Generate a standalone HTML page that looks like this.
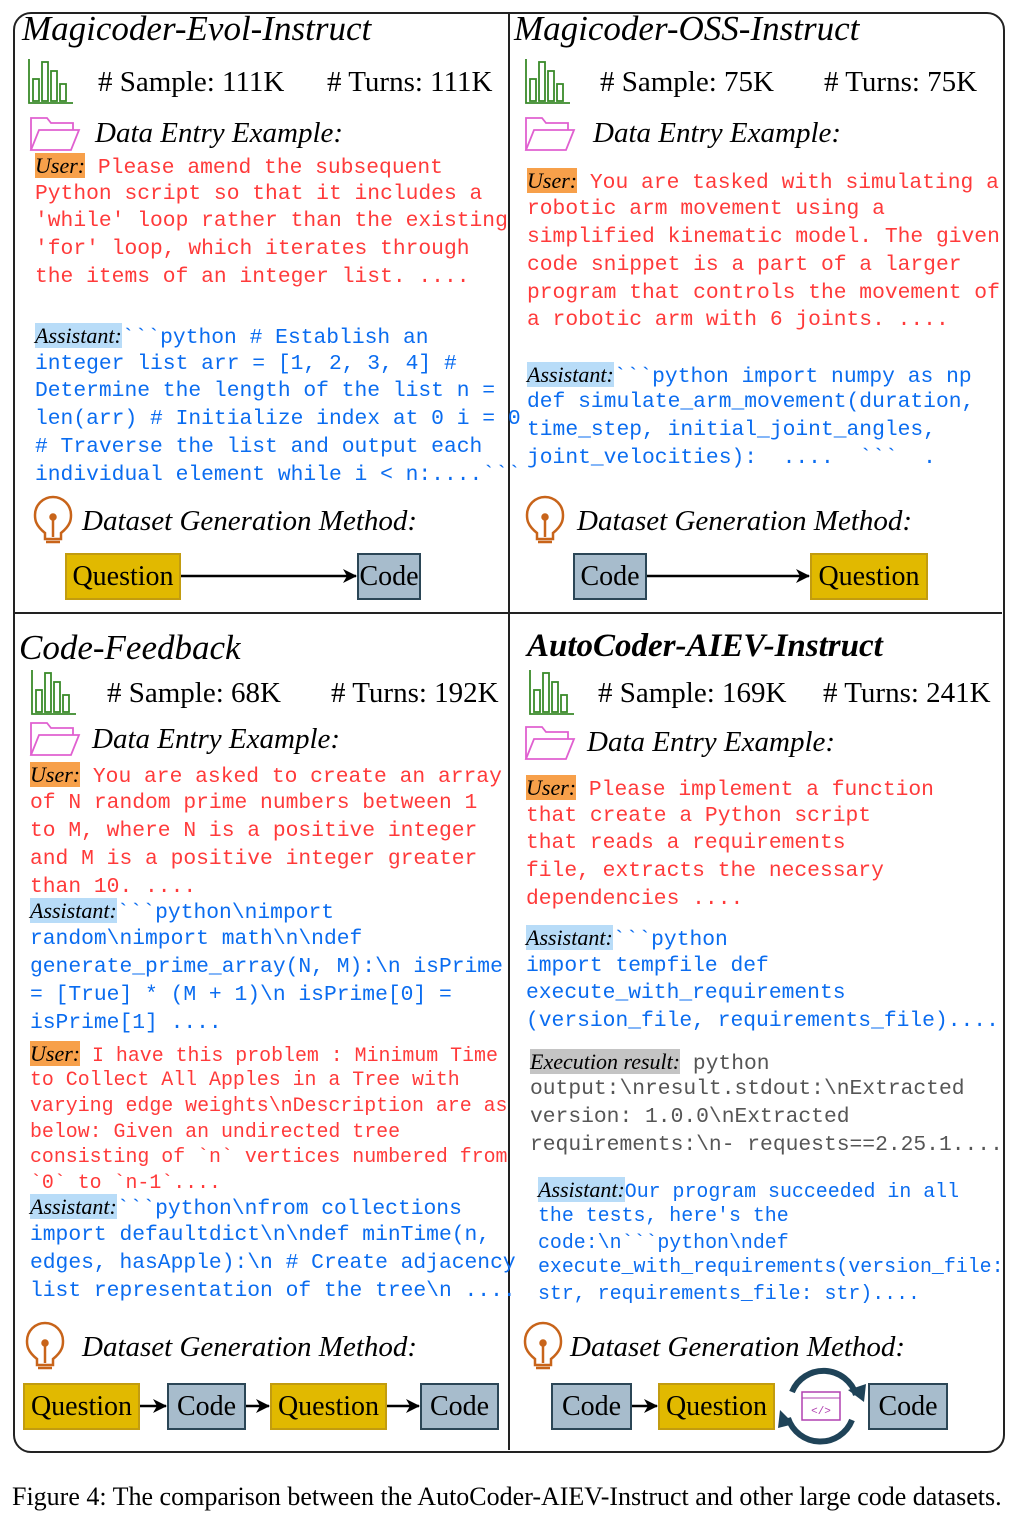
<!DOCTYPE html>
<html><head><meta charset="utf-8"><style>
body{margin:0;width:1028px;height:1514px;background:#fff;position:relative;overflow:hidden;font-family:"Liberation Serif",serif}
.a{position:absolute;white-space:pre;line-height:28px}
.t{font-style:italic;font-size:35px;line-height:38px}
.s{font-size:29px;line-height:32px}
.h{font-style:italic;font-size:29px;line-height:32px}
.m{font-family:"Liberation Mono",monospace;font-size:21.3px}
.r{color:#ff3a3a}.b{color:#0a6cf0}.g{color:#555}
.u{background:#f7a04a;color:#000;font-family:"Liberation Serif",serif;font-style:italic;font-size:22px}
.as{background:#b8dcf8;color:#000;font-family:"Liberation Serif",serif;font-style:italic;font-size:22px}
.ex{background:#c4c4c4;color:#000;font-family:"Liberation Serif",serif;font-style:italic;font-size:22px}
.q{position:absolute;background:#e1b900;border:2px solid #c29c10;box-sizing:border-box;font-size:28px;line-height:43px;text-align:center}
.c{position:absolute;background:#a7bccc;border:2px solid #2b4656;box-sizing:border-box;font-size:28px;line-height:43px;text-align:center}
</style></head><body>
<div style="position:absolute;left:13px;top:12px;width:988px;height:1437px;border:2px solid #222;border-radius:18px"></div>
<div style="position:absolute;left:508px;top:13px;width:2px;height:1437px;background:#222"></div>
<div style="position:absolute;left:14px;top:612px;width:988px;height:2px;background:#222"></div>

<svg width="1028" height="1514" style="position:absolute;left:0;top:0">
<defs>
<g id="chart" fill="none" stroke="#3a8a2a" stroke-width="1.8"><path d="M0 0 V44 H44"/><rect x="4" y="20" width="6" height="22"/><rect x="13" y="3" width="6" height="39"/><rect x="22" y="12" width="6" height="30"/><rect x="31" y="25" width="6" height="17"/></g>
<g id="fold" fill="none" stroke="#e060d0" stroke-width="1.8"><path d="M0 34 V2 H16 L20 7 H42 V14"/><path d="M0 34 L8 14 H48 L40 34 Z"/></g>
<g id="bulb" fill="none" stroke="#c8641a" stroke-width="2.5"><path d="M12 36 C2 28 2 22 2 18 A18 18 0 0 1 38 18 C38 22 38 28 28 36 V42 H12 Z"/><path d="M20 40 V22"/><circle cx="20" cy="20" r="2.5" fill="#c8641a"/><path d="M13 45 H27"/></g>
<marker id="ar" markerWidth="14" markerHeight="14" refX="13" refY="7" orient="auto" markerUnits="userSpaceOnUse"><path d="M0 0 L14 7 L0 14 L4 7Z" fill="#000"/></marker>
</defs>
<use href="#chart" x="29" y="59"/><use href="#chart" x="526" y="59"/><use href="#chart" x="32" y="670"/><use href="#chart" x="530" y="670"/>
<use href="#fold" x="31" y="116"/><use href="#fold" x="526" y="116"/><use href="#fold" x="31" y="721"/><use href="#fold" x="526" y="725"/>
<use href="#bulb" x="33" y="497"/><use href="#bulb" x="525" y="497"/><use href="#bulb" x="25" y="1323"/><use href="#bulb" x="523" y="1323"/>
<g stroke="#000" stroke-width="2.5" marker-end="url(#ar)">
<line x1="181" y1="576" x2="356" y2="576"/><line x1="647" y1="576" x2="809" y2="576"/>
<line x1="140" y1="1406" x2="166" y2="1406"/><line x1="246" y1="1406" x2="269" y2="1406"/><line x1="387" y1="1406" x2="419" y2="1406"/><line x1="632" y1="1406" x2="657" y2="1406"/>
</g>
<g fill="none" stroke="#1f4358" stroke-width="6"><path d="M792 1392 A34 34 0 0 1 856 1395"/><path d="M852 1420 A34 34 0 0 1 788 1418"/></g>
<path d="M848 1390 L864 1402 L866 1384Z M794 1424 L780 1410 L778 1428Z" fill="#1f4358"/>
<rect x="802" y="1392" width="38" height="28" fill="#fff" stroke="#b040b0" stroke-width="1.5"/><line x1="802" y1="1398" x2="840" y2="1398" stroke="#b040b0"/>
<text x="821" y="1414" font-size="11" fill="#b040b0" text-anchor="middle" font-family="Liberation Mono">&lt;/&gt;</text>
</svg>

<!-- TL -->
<div class="a t" style="left:22px;top:10px">Magicoder-Evol-Instruct</div>
<div class="a s" style="left:98px;top:66px"># Sample: 111K</div><div class="a s" style="left:327px;top:66px"># Turns: 111K</div>
<div class="a h" style="left:95px;top:117px">Data Entry Example:</div>
<div class="a m r" style="left:35px;top:152px"><span class="u">User:</span> Please amend the subsequent</div>
<div class="a m r" style="left:35px;top:180px">Python script so that it includes a</div>
<div class="a m r" style="left:35px;top:207px">'while' loop rather than the existing</div>
<div class="a m r" style="left:35px;top:235px">'for' loop, which iterates through</div>
<div class="a m r" style="left:35px;top:263px">the items of an integer list. ....</div>
<div class="a m b" style="left:35px;top:322px"><span class="as">Assistant:</span>&#96;&#96;&#96;python # Establish an</div>
<div class="a m b" style="left:35px;top:350px">integer list arr = [1, 2, 3, 4] #</div>
<div class="a m b" style="left:35px;top:377px">Determine the length of the list n =</div>
<div class="a m b" style="left:35px;top:405px">len(arr) # Initialize index at 0 i = 0</div>
<div class="a m b" style="left:35px;top:433px"># Traverse the list and output each</div>
<div class="a m b" style="left:35px;top:461px">individual element while i &lt; n:....&#96;&#96;&#96;</div>
<div class="a h" style="left:82px;top:505px">Dataset Generation Method:</div>
<div class="q" style="left:65px;top:553px;width:116px;height:47px">Question</div>
<div class="c" style="left:357px;top:553px;width:64px;height:47px">Code</div>

<!-- TR -->
<div class="a t" style="left:514px;top:10px">Magicoder-OSS-Instruct</div>
<div class="a s" style="left:600px;top:66px"># Sample: 75K</div><div class="a s" style="left:824px;top:66px"># Turns: 75K</div>
<div class="a h" style="left:593px;top:117px">Data Entry Example:</div>
<div class="a m r" style="left:527px;top:167px"><span class="u">User:</span> You are tasked with simulating a</div>
<div class="a m r" style="left:527px;top:195px">robotic arm movement using a</div>
<div class="a m r" style="left:527px;top:223px">simplified kinematic model. The given</div>
<div class="a m r" style="left:527px;top:251px">code snippet is a part of a larger</div>
<div class="a m r" style="left:527px;top:279px">program that controls the movement of</div>
<div class="a m r" style="left:527px;top:306px">a robotic arm with 6 joints. ....</div>
<div class="a m b" style="left:527px;top:361px"><span class="as">Assistant:</span>&#96;&#96;&#96;python import numpy as np</div>
<div class="a m b" style="left:527px;top:388px">def simulate_arm_movement(duration,</div>
<div class="a m b" style="left:527px;top:416px">time_step, initial_joint_angles,</div>
<div class="a m b" style="left:527px;top:444px">joint_velocities):  ....  &#96;&#96;&#96;  .</div>
<div class="a h" style="left:577px;top:505px">Dataset Generation Method:</div>
<div class="c" style="left:573px;top:553px;width:74px;height:47px">Code</div>
<div class="q" style="left:810px;top:553px;width:118px;height:47px">Question</div>

<!-- BL -->
<div class="a t" style="left:19px;top:629px">Code-Feedback</div>
<div class="a s" style="left:107px;top:677px"># Sample: 68K</div><div class="a s" style="left:331px;top:677px"># Turns: 192K</div>
<div class="a h" style="left:92px;top:723px">Data Entry Example:</div>
<div class="a m r" style="left:30px;top:761px"><span class="u">User:</span> You are asked to create an array</div>
<div class="a m r" style="left:30px;top:789px">of N random prime numbers between 1</div>
<div class="a m r" style="left:30px;top:817px">to M, where N is a positive integer</div>
<div class="a m r" style="left:30px;top:845px">and M is a positive integer greater</div>
<div class="a m r" style="left:30px;top:873px">than 10. ....</div>
<div class="a m b" style="left:30px;top:897px"><span class="as">Assistant:</span>&#96;&#96;&#96;python\nimport</div>
<div class="a m b" style="left:30px;top:925px">random\nimport math\n\ndef</div>
<div class="a m b" style="left:30px;top:953px">generate_prime_array(N, M):\n isPrime</div>
<div class="a m b" style="left:30px;top:981px">= [True] * (M + 1)\n isPrime[0] =</div>
<div class="a m b" style="left:30px;top:1009px">isPrime[1] ....</div>
<div class="a m r" style="left:30px;top:1040px;font-size:19.9px"><span class="u">User:</span> I have this problem : Minimum Time</div>
<div class="a m r" style="left:30px;top:1066px;font-size:19.9px">to Collect All Apples in a Tree with</div>
<div class="a m r" style="left:30px;top:1092px;font-size:19.9px">varying edge weights\nDescription are as</div>
<div class="a m r" style="left:30px;top:1118px;font-size:19.9px">below: Given an undirected tree</div>
<div class="a m r" style="left:30px;top:1143px;font-size:19.9px">consisting of &#96;n&#96; vertices numbered from</div>
<div class="a m r" style="left:30px;top:1169px;font-size:19.9px">&#96;0&#96; to &#96;n-1&#96;....</div>
<div class="a m b" style="left:30px;top:1193px"><span class="as">Assistant:</span>&#96;&#96;&#96;python\nfrom collections</div>
<div class="a m b" style="left:30px;top:1221px">import defaultdict\n\ndef minTime(n,</div>
<div class="a m b" style="left:30px;top:1249px">edges, hasApple):\n # Create adjacency</div>
<div class="a m b" style="left:30px;top:1277px">list representation of the tree\n ....</div>
<div class="a h" style="left:82px;top:1331px">Dataset Generation Method:</div>
<div class="q" style="left:23px;top:1383px;width:117px;height:47px">Question</div>
<div class="c" style="left:167px;top:1383px;width:79px;height:47px">Code</div>
<div class="q" style="left:270px;top:1383px;width:117px;height:47px">Question</div>
<div class="c" style="left:420px;top:1383px;width:79px;height:47px">Code</div>

<!-- BR -->
<div class="a t" style="left:527px;top:627px;font-weight:bold;font-size:33px">AutoCoder-AIEV-Instruct</div>
<div class="a s" style="left:598px;top:677px"># Sample: 169K</div><div class="a s" style="left:823px;top:677px"># Turns: 241K</div>
<div class="a h" style="left:587px;top:726px">Data Entry Example:</div>
<div class="a m r" style="left:526px;top:774px"><span class="u">User:</span> Please implement a function</div>
<div class="a m r" style="left:526px;top:802px">that create a Python script</div>
<div class="a m r" style="left:526px;top:829px">that reads a requirements</div>
<div class="a m r" style="left:526px;top:857px">file, extracts the necessary</div>
<div class="a m r" style="left:526px;top:885px">dependencies ....</div>
<div class="a m b" style="left:526px;top:924px"><span class="as">Assistant:</span>&#96;&#96;&#96;python</div>
<div class="a m b" style="left:526px;top:952px">import tempfile def</div>
<div class="a m b" style="left:526px;top:979px">execute_with_requirements</div>
<div class="a m b" style="left:526px;top:1007px">(version_file, requirements_file)....</div>
<div class="a m g" style="left:530px;top:1048px"><span class="ex">Execution result:</span> python</div>
<div class="a m g" style="left:530px;top:1075px">output:\nresult.stdout:\nExtracted</div>
<div class="a m g" style="left:530px;top:1103px">version: 1.0.0\nExtracted</div>
<div class="a m g" style="left:530px;top:1131px">requirements:\n- requests==2.25.1....</div>
<div class="a m b" style="left:538px;top:1176px;font-size:19.9px"><span class="as">Assistant:</span>Our program succeeded in all</div>
<div class="a m b" style="left:538px;top:1202px;font-size:19.9px">the tests, here's the</div>
<div class="a m b" style="left:538px;top:1229px;font-size:19.9px">code:\n&#96;&#96;&#96;python\ndef</div>
<div class="a m b" style="left:538px;top:1253px;font-size:19.9px">execute_with_requirements(version_file:</div>
<div class="a m b" style="left:538px;top:1280px;font-size:19.9px">str, requirements_file: str)....</div>
<div class="a h" style="left:570px;top:1331px">Dataset Generation Method:</div>
<div class="c" style="left:551px;top:1383px;width:81px;height:47px">Code</div>
<div class="q" style="left:658px;top:1383px;width:117px;height:47px">Question</div>
<div class="c" style="left:868px;top:1383px;width:80px;height:47px">Code</div>

<div class="a" style="left:12px;top:1482px;font-size:26px;line-height:30px">Figure 4: The comparison between the AutoCoder-AIEV-Instruct and other large code datasets.</div>
</body></html>
